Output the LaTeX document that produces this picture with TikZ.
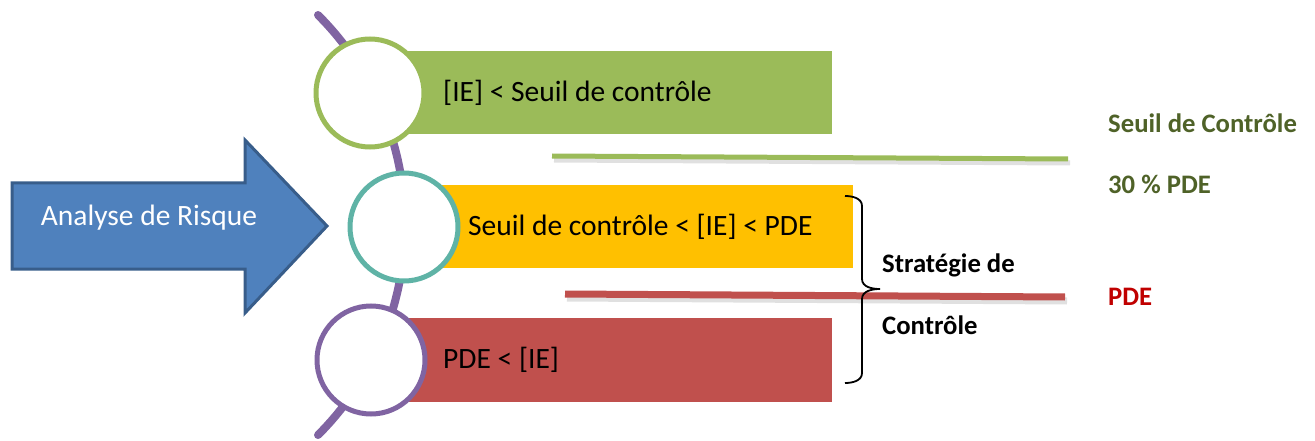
\documentclass[tikz,border=0pt]{standalone}
\usepackage{fontspec}
\setmainfont{Carlito}
\definecolor{cgreen}{HTML}{9BBB59}
\definecolor{corange}{HTML}{FFC000}
\definecolor{cred}{HTML}{C0504D}
\definecolor{cpurple}{HTML}{8064A2}
\definecolor{cteal}{HTML}{5FB3A6}
\definecolor{cblue}{HTML}{4F81BD}
\definecolor{cbluedark}{HTML}{385D8A}
\definecolor{colive}{HTML}{4F6228}
\definecolor{cdarkred}{HTML}{C00000}
\begin{document}
\begin{tikzpicture}[x=1pt,y=-1pt,
  ring/.style={circle, fill=white, line width=5pt, minimum size=108pt, inner sep=0pt},
  bandtext/.style={anchor=west, font=\fontsize{29.5}{34}\selectfont, inner sep=0pt},
  sidetext/.style={anchor=west, font=\fontsize{26.7}{31}\selectfont\bfseries, inner sep=0pt},
  level/.style={line width=5pt}
  ]
\useasboundingbox (0,0) rectangle (1315,441);
% purple arc
\draw[cpurple, line width=8pt, line cap=round] (318pt,-15pt) arc[start angle=45, end angle=-45, radius=297pt];
% bands
\fill[cgreen] (370,51) rectangle (832,134);
\fill[corange] (404,185) rectangle (853,268);
\fill[cred] (371,318) rectangle (832,402);
% rings
\node[ring, draw=cgreen] (c1) at (370,93) {};
\node[ring, draw=cteal] (c2) at (404,227) {};
\node[ring, draw=cpurple] (c3) at (371,360) {};
% band texts
\node[bandtext] (t1) at (443,93) {[IE] < Seuil de contrôle};
\node[bandtext] (t2) at (468,227) {Seuil de contrôle < [IE] < PDE};
\node[bandtext] (t3) at (443,360) {PDE < [IE]};
% arrow
\filldraw[fill=cblue, draw=cbluedark, line width=3pt, line join=miter]
  (12,183) -- (245,183) -- (245,140) -- (327,226) -- (245,313) -- (245,269) -- (12,269) -- cycle;
\node[font=\fontsize{29.5}{34}\selectfont, text=white, inner sep=0pt] (ar) at (149,218) {Analyse de Risque};
% level lines
\draw[black!12, line width=5pt] (554,160) -- (1070,163);
\draw[cgreen, level] (552,156) -- (1068,159);
\draw[black!12, line width=7pt] (567,298) -- (1067,301);
\draw[cred, line width=7pt] (565,294) -- (1065,297);
% brace
\draw[black, line width=1.8pt] (845,196) to[out=0,in=90] (862,206) -- (862,279) to[out=-90,in=180] (880,289)
  to[out=180,in=90] (862,299) -- (862,373) to[out=-90,in=0] (845,383);
\node[sidetext] (s1) at (882,265) {Stratégie de};
\node[sidetext] (s2) at (882,325) {Contrôle};
% right labels
\node[sidetext, text=colive] (r1) at (1108,123) {Seuil de Contrôle};
\node[sidetext, text=colive] (r2) at (1108,184) {30 \% PDE};
\node[sidetext, text=cdarkred] (r3) at (1108,297) {PDE};
\end{tikzpicture}
\end{document}
